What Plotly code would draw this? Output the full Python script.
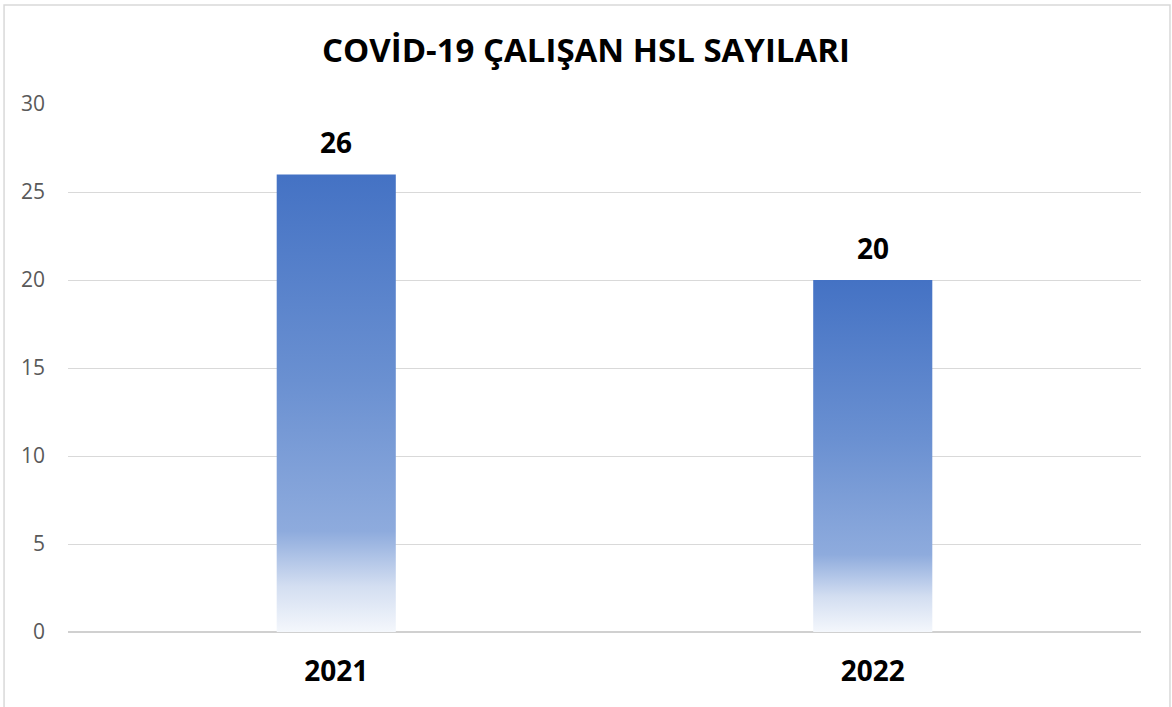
import plotly.graph_objects as go

# Data
categories = ["2021", "2022"]
values = [26, 20]
y_ticks = [0, 5, 10, 15, 20, 25, 30]
title_text = "COVİD-19 ÇALIŞAN HSL SAYILARI"

bar_half_width = 0.111
gradient = [
    [0.0, "#F4F7FC"],
    [0.10, "#D3DEF1"],
    [0.22, "#8EABDD"],
    [0.55, "#6A90D1"],
    [1.0, "#4472C4"],
]

fig = go.Figure()
for i, (cat, v) in enumerate(zip(categories, values)):
    fig.add_trace(go.Scatter(
        x=[i - bar_half_width, i - bar_half_width, i + bar_half_width, i + bar_half_width, i - bar_half_width],
        y=[0, v, v, 0, 0],
        mode="lines",
        line=dict(width=0, color="rgba(0,0,0,0)"),
        fill="toself",
        fillgradient=dict(type="vertical", colorscale=gradient, start=0, stop=v),
        hoverinfo="text",
        hovertext=f"{cat}: {v}",
        showlegend=False,
    ))
    fig.add_annotation(
        x=i, y=v, text=f"<b>{v}</b>", showarrow=False,
        yanchor="bottom", yshift=11,
        font=dict(family="Open Sans", size=28, color="#000000"),
    )

fig.add_shape(
    type="rect", xref="paper", yref="paper",
    x0=-0.0596, x1=1.027, y0=-0.3, y1=1.1875,
    line=dict(color="#D9D9D9", width=1.5), fillcolor="rgba(0,0,0,0)", layer="below",
)

fig.update_layout(
    width=1172, height=707,
    margin=dict(l=68, r=31, t=104, b=75),
    paper_bgcolor="white", plot_bgcolor="white",
    title=dict(
        text=f"<b>{title_text}</b>", xref="container", x=0.5, xanchor="center",
        y=1 - 50 / 707, yanchor="middle",
        font=dict(family="Open Sans", size=33, color="#000000"),
    ),
    xaxis=dict(
        range=[-0.5, 1.5], tickmode="array", tickvals=list(range(len(categories))),
        ticktext=[f"<b>{c}</b>" for c in categories],
        showgrid=False, zeroline=False, showline=False,
        tickfont=dict(family="Open Sans", size=28, color="#000000"),
        ticklabelstandoff=20, fixedrange=True,
    ),
    yaxis=dict(
        range=[0, 30], tickmode="array", tickvals=y_ticks,
        showgrid=True, gridcolor="#D9D9D9", gridwidth=1,
        zeroline=True, zerolinecolor="#D0D0D0", zerolinewidth=2,
        showline=False,
        tickfont=dict(family="Open Sans", size=21, color="#595959"),
        ticklabelstandoff=22,
    ),
)

fig.write_html("out.html", config={"displayModeBar": False},
               post_script="document.body.style.margin='0';")
